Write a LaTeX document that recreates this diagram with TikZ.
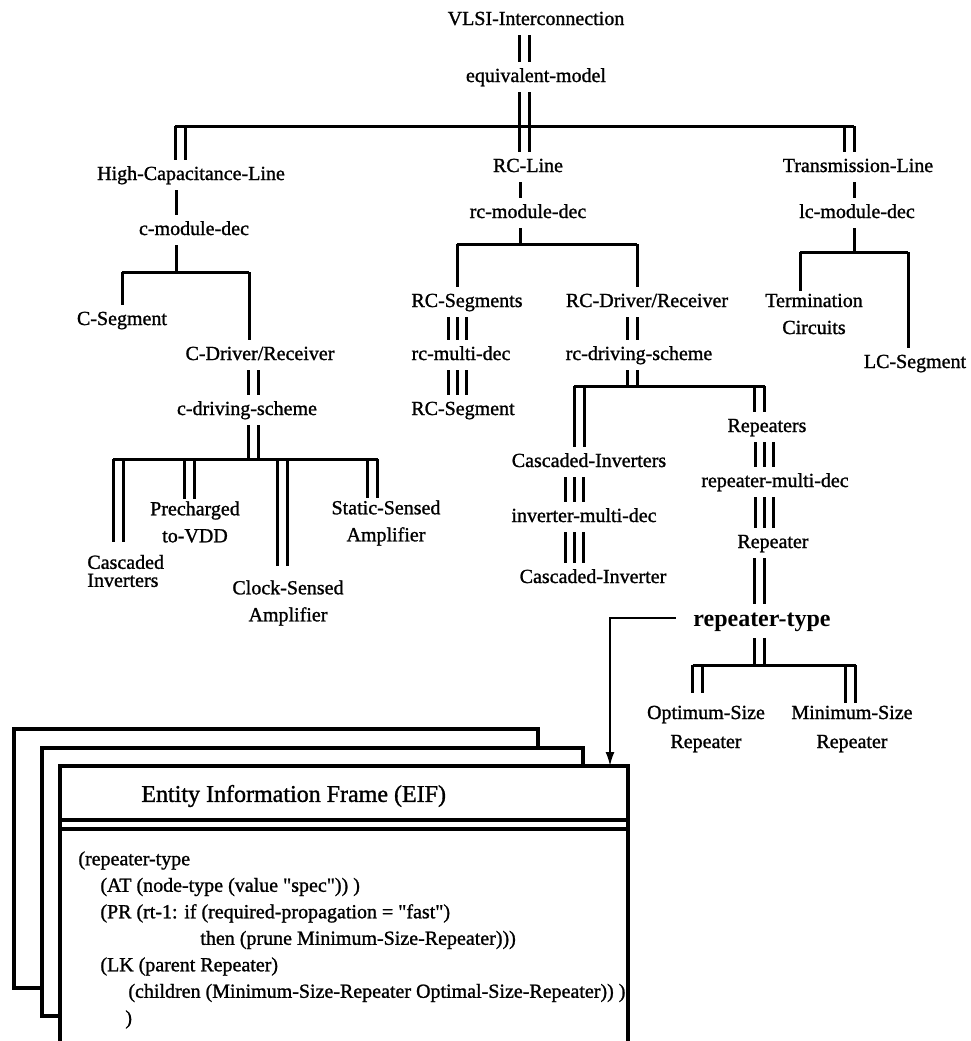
\documentclass[tikz,border=0pt]{standalone}
\usepackage{fontspec}
\setmainfont{Liberation Serif}[UprightFeatures={FakeBold=1.2}]
\usetikzlibrary{arrows.meta}
\tikzset{%
  TreeNode/.style={inner xsep=2pt,inner ysep=3pt,text height=7pt,text depth=2pt,font=\fontsize{10}{12}\selectfont},
  TreeText/.style={inner sep=1pt,align=center,font=\fontsize{10}{13.5}\selectfont},
  Single/.style={line width=1.5pt},
  Double/.style={line width=1.5pt,double,double distance=3.5pt},
  Triple/.style={line width=1.5pt,preaction={draw,line width=1.5pt,double,double distance=7.5pt}},
  Frame/.style={line width=1.7pt},
  Arrow/.style={line width=1pt,-{Latex[length=7pt,width=4.5pt]}}
}

\begin{document}
\begin{tikzpicture}[x=0.5pt,y=-0.5pt]
\useasboundingbox (0,0) rectangle (971,1041);

\node (vlsi) [TreeNode] at (536,20) {VLSI-Interconnection};
\node (eqm) [TreeNode] at (536,77) {equivalent-model};

\node (hcl) [TreeNode] at (191,175) {High-Capacitance-Line};
\node (rcl) [TreeNode] at (528,167) {RC-Line};
\node (tml) [TreeNode] at (858,167) {Transmission-Line};
\node (cmd) [TreeNode] at (194,230) {c-module-dec};
\node (rcmd) [TreeNode] at (528,213) {rc-module-dec};
\node (lcmd) [TreeNode] at (857,213) {lc-module-dec};

\node (cseg) [TreeNode] at (122,320) {C-Segment};
\node (cdr) [TreeNode] at (260,355) {C-Driver/Receiver};
\node (cds) [TreeNode] at (247,410) {c-driving-scheme};
\node (ci) [TreeText,align=left,anchor=west,font=\fontsize{10}{9}\selectfont] at (85,571) {Cascaded\\Inverters};
\node (pre) [TreeText] at (195,522) {Precharged\\to-VDD};
\node (cks) [TreeText] at (288,603) {Clock-Sensed\\Amplifier};
\node (ssa) [TreeText] at (386,523) {Static-Sensed\\Amplifier};

\node (rcsegs) [TreeNode] at (467,302) {RC-Segments};
\node (rcmulti) [TreeNode] at (461,355) {rc-multi-dec};
\node (rcseg) [TreeNode] at (463,410) {RC-Segment};
\node (rcdr) [TreeNode] at (647,302) {RC-Driver/Receiver};
\node (rcds) [TreeNode] at (639,355) {rc-driving-scheme};
\node (casinv) [TreeNode] at (589,462) {Cascaded-Inverters};
\node (invmulti) [TreeNode] at (584,517) {inverter-multi-dec};
\node (casinv1) [TreeNode] at (593,578) {Cascaded-Inverter};
\node (reps) [TreeNode] at (767,427) {Repeaters};
\node (repmulti) [TreeNode] at (775,482) {repeater-multi-dec};
\node (rep) [TreeNode] at (773,543) {Repeater};
\node (reptype) [TreeNode,inner xsep=8.5pt,text height=8pt,text depth=2.5pt,font=\fontsize{12}{14}\bfseries\selectfont] at (762,621) {repeater-type};
\node (opt) [TreeText,font=\fontsize{10}{14.5}\selectfont] at (706,729) {Optimum-Size\\Repeater};
\node (mins) [TreeText,font=\fontsize{10}{14.5}\selectfont] at (852,729) {Minimum-Size\\Repeater};

\node (term) [TreeText] at (814,314) {Termination\\Circuits};
\node (lcseg) [TreeNode] at (915,363) {LC-Segment};

\coordinate (r02) at (524.5,126);
\coordinate (r01) at (180,126);
\coordinate (r03) at (849,126);
\coordinate (r11) at (176,272);
\coordinate (r12) at (122,272);
\coordinate (r13) at (249,272);
\coordinate (r2t) at (253.5,459);
\coordinate (r21) at (118,459);
\coordinate (r22) at (189.5,459);
\coordinate (r23) at (282,459);
\coordinate (r24) at (372.5,459);
\coordinate (r3t) at (520,244);
\coordinate (r31) at (457,244);
\coordinate (r32) at (637,244);
\coordinate (r4t) at (632.5,386);
\coordinate (r41) at (579,386);
\coordinate (r42) at (759.5,386);
\coordinate (r43) at (574,386);
\coordinate (r44) at (764,386);
\coordinate (r5t) at (854,252);
\coordinate (r51) at (800,252);
\coordinate (r52) at (908,252);
\coordinate (r6t) at (759.5,665);
\coordinate (r61) at (697.5,665);
\coordinate (r62) at (850.5,665);

\draw [Double] (r02 |- vlsi.south) -- (r02 |- eqm.north);
\draw [Double] (r02 |- eqm.south) -- (r02 |- rcl.north);
\draw [Double] (r01) -- (r01 |- hcl.north);
\draw [Double] (r03) -- (r03 |- tml.north);
\draw [Single] ([xshift=-2.5pt]r01) -- ([xshift=2.5pt]r03);

\draw [Single] (r11 |- hcl.south) -- (r11 |- cmd.north);
\draw [Single] (r11 |- cmd.south) -- (r11);
\draw [Single] (r12) -- (r13);
\draw [Single] (r12) -- (r12 |- cseg.north);
\draw [Single] (r13) -- (r13 |- cdr.north);
\draw [Double] (r2t |- cdr.south) -- (r2t |- cds.north);
\draw [Double] (r2t |- cds.south) -- (r2t);
\draw [Double,shorten >=5.5pt] (r21) -- (r21 |- ci.north);
\draw [Double] (r22) -- (r22 |- pre.north);
\draw [Double,shorten >=6pt] (r23) -- (r23 |- cks.north);
\draw [Double] (r24) -- (r24 |- ssa.north);
\draw [Single] ([xshift=-2.5pt]r21) -- ([xshift=2.5pt]r24);

\draw [Single] (r3t |- rcl.south) -- (r3t |- rcmd.north);
\draw [Single] (r3t |- rcmd.south) -- (r3t);
\draw [Single] (r31) -- (r32);
\draw [Single] (r31) -- (r31 |- rcsegs.north);
\draw [Single] (r32) -- (r32 |- rcdr.north);
\draw [Triple] (r31 |- rcsegs.south) -- (r31 |- rcmulti.north);
\draw [Triple] (r31 |- rcmulti.south) -- (r31 |- rcseg.north);
\draw [Double] (r4t |- rcdr.south) -- (r4t |- rcds.north);
\draw [Double] (r4t |- rcds.south) -- (r4t);
\draw [Double] (r41) -- (r41 |- casinv.north);
\draw [Double] (r42) -- (r42 |- reps.north);
\draw [Single] ([xshift=-2.5pt]r41) -- ([xshift=2.5pt]r42);
\draw [Triple] (r43 |- casinv.south) -- (r43 |- invmulti.north);
\draw [Triple] (r43 |- invmulti.south) -- (r43 |- casinv1.north);
\draw [Triple] (r44 |- reps.south) -- (r44 |- repmulti.north);
\draw [Triple] (r44 |- repmulti.south) -- (r44 |- rep.north);
\draw [Double] (r42 |- rep.south) -- (r42 |- reptype.north);
\draw [Double] (r6t |- reptype.south) -- (r6t);
\draw [Double,shorten >=5pt] (r61) -- (r61 |- opt.north);
\draw [Double] (r62) -- (r62 |- mins.north);
\draw [Single] ([xshift=-2.5pt]r61) -- ([xshift=2.5pt]r62);

\draw [Single] (r5t |- tml.south) -- (r5t |- lcmd.north);
\draw [Single] (r5t |- lcmd.south) -- (r5t);
\draw [Single] (r51) -- (r52);
\draw [Single] (r51) -- (r51 |- term.north);
\draw [Single] (r52) -- (r52 |- lcseg.north);

\draw [Frame] (538,747) -- (538,729) -- (14,729) -- (14,988) -- (42,988);
\draw [Frame] (583,765) -- (583,748) -- (42,748) -- (42,1016) -- (60,1016);
\draw [Frame,line width=1.9pt] (60,1041) -- (60,766) -- (628,766) -- (628,1041);
\draw [Frame] (60,820) -- (628,820);
\draw [Frame] (60,829) -- (628,829);
\coordinate (eiftop) at (610,766);
\draw [Arrow] ([yshift=1.5pt]reptype.west) -| (eiftop);

\node (eiftitle) [anchor=west,inner sep=0pt,font=\fontsize{12}{14}\selectfont] at (141,796) {Entity Information Frame (EIF)};
\node (eifbody) [anchor=north west,inner sep=0pt,align=left,font=\fontsize{10}{13.25}\selectfont] at (78,851) {%
(repeater-type\\
\hspace*{11pt}(AT (node-type (value \textquotedbl spec\textquotedbl)) )\\
\hspace*{11pt}(PR (rt-1: if (required-propagation = \textquotedbl fast\textquotedbl)\\
\hspace*{61pt}then (prune Minimum-Size-Repeater)))\\
\hspace*{11pt}(LK (parent Repeater)\\
\hspace*{25pt}(children (Minimum-Size-Repeater Optimal-Size-Repeater)) )\\
\hspace*{23.5pt})};
\end{tikzpicture}
\end{document}
